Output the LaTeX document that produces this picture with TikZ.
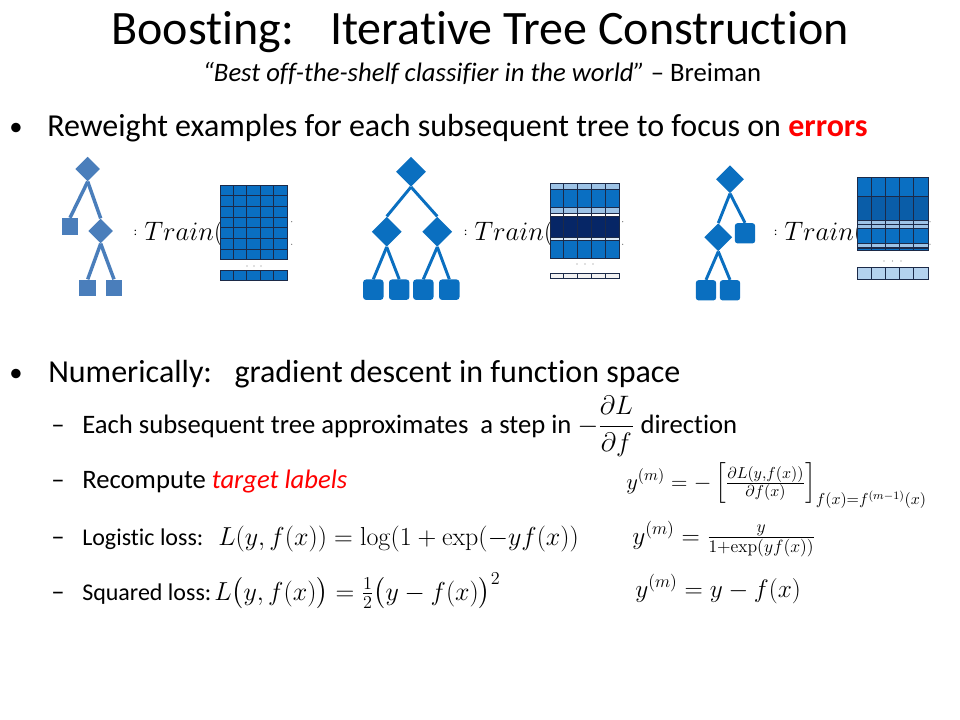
\RequirePackage{fix-cm}
\documentclass[tikz,border=0pt]{standalone}
\usepackage{amsmath, amssymb}
\usepackage[no-math]{fontspec}
\setmainfont{Carlito}[Ligatures=NoCommon]
\usepackage{xcolor}
\usetikzlibrary{shapes.geometric}

\definecolor{treeA}{HTML}{4A7EBB}
\definecolor{treeB}{HTML}{0A6FC0}
\definecolor{cellmid}{HTML}{0A6FC2}
\definecolor{cellmd}{HTML}{0A5DA8}
\definecolor{celldark}{HTML}{062666}
\definecolor{celllight}{HTML}{9DC3E6}
\definecolor{cellpale}{HTML}{DEEBF7}
\definecolor{cellsky}{HTML}{B4D2EE}
\definecolor{cellgray}{HTML}{F2F2F2}
\definecolor{gridline}{HTML}{1C2A48}
\definecolor{errred}{HTML}{FF0000}

\tikzset{
  splitA/.style={diamond, fill=treeA, inner sep=0pt, minimum size=18.5pt},
  leafA/.style={rectangle, fill=treeA, inner sep=0pt, minimum size=12.6pt},
  splitB/.style={diamond, fill=treeB, inner sep=0pt, minimum size=22.5pt},
  splitC/.style={diamond, fill=treeB, inner sep=0pt, minimum size=21pt},
  leafB/.style={rectangle, rounded corners=2.2pt, fill=treeB, inner sep=0pt, minimum size=15.3pt},
  edgeA/.style={treeA, line width=2.6pt},
  edgeB/.style={treeB, line width=2.2pt},
  cell/.style={draw=gridline, line width=0.6pt},
  traintext/.style={inner sep=0pt, font=\fontsize{20}{24}\selectfont},
  colontext/.style={inner sep=0pt, font=\fontsize{9}{10}\selectfont},
  titletext/.style={inner sep=0pt, font=\fontsize{36}{43}\selectfont},
  subtext/.style={inner sep=0pt, font=\fontsize{20}{24}\selectfont},
  bullettext/.style={inner sep=0pt, font=\fontsize{24}{29}\selectfont},
  dottext/.style={inner sep=0pt, font=\fontsize{20}{24}\selectfont},
  itemtext/.style={inner sep=0pt, font=\fontsize{20}{24}\selectfont},
  losstext/.style={inner sep=0pt, font=\fontsize{18}{22}\selectfont},
  mathtext/.style={inner sep=0pt, font=\fontsize{19.5}{23}\selectfont},
  labeltext/.style={inner sep=0pt, font=\fontsize{19}{23}\selectfont},
}

\begin{document}
\begin{tikzpicture}[x=0.75pt, y=-0.75pt]

\fill[white] (0,0) rectangle (960,720);
\useasboundingbox (0,0) rectangle (960,720);

% title
\node[titletext, anchor=base] (title) at (480,45) {Boosting:\hspace{0.45em} Iterative Tree Construction};
\node[subtext, anchor=base] (quote) at (482,82) {\textit{“Best off-the-shelf classifier in the world”} – Breiman};

% first bullet
\node[dottext, anchor=base] (dot1) at (16,136) {\textbullet};
\node[bullettext, anchor=base west] (b1) at (47,137) {Reweight examples for each subsequent tree to focus on \textbf{\color{errred}errors}};

\begin{scope}
% tree 1
\node[splitA] (r1) at (87.7,169) {};
\node[leafA] (l1) at (70,226.5) {};
\node[splitA] (s1) at (100.7,231) {};
\node[leafA] (l2) at (87.7,288) {};
\node[leafA] (l3) at (114,288) {};
\draw[edgeA] (r1.south) -- (l1.north);
\draw[edgeA] (r1.south) -- (s1.north);
\draw[edgeA] (s1.south) -- (l2.north);
\draw[edgeA] (s1.south) -- (l3.north);

\node[colontext] (c1) at (135.5,232.7) {:};
\node[traintext, anchor=base west] (tr1) at (144,240.7) {$Train($};

\foreach \r in {0,...,6}{
	\foreach \c in {0,...,4}{
		\draw[cell, fill=cellmid] (220+\c*13.4,185+\r*10.7) rectangle ++(13.4,10.7);
	}
}
\foreach \c in {0,...,4}{
	\draw[cell, fill=cellmid] (220+\c*13.4,270) rectangle ++(13.4,10);
}
\foreach \d in {0,1,2}{
	\fill[gray] (247+\d*7,266) circle (0.45pt);
}
\fill[gray] (291.7,221.7) circle (0.5pt);
\fill[gray] (291.7,244.3) circle (0.5pt);
\end{scope}

\begin{scope}
% tree 2
\node[splitB] (r2) at (411,171.7) {};
\node[splitB] (s2) at (386.7,231.7) {};
\node[splitB] (s3) at (437.3,231.7) {};
\node[leafB] (l4) at (373.3,289.7) {};
\node[leafB] (l5) at (399.2,289.7) {};
\node[leafB] (l6) at (423.3,289.7) {};
\node[leafB] (l7) at (449.3,289.7) {};
\draw[edgeB] (r2.south) -- (s2.north);
\draw[edgeB] (r2.south) -- (s3.north);
\draw[edgeB] (s2.south) -- (l4.north);
\draw[edgeB] (s2.south) -- (l5.north);
\draw[edgeB] (s3.south) -- (l6.north);
\draw[edgeB] (s3.south) -- (l7.north);

\node[colontext] (c2) at (465.7,232.7) {:};
\node[traintext, anchor=base west] (tr2) at (474,240.7) {$Train($};

\foreach \ya/\h/\col in {183/6/celllight, 189/18/cellmid, 207/6/celllight, 213/3/white, 216/21/celldark, 237/3/cellpale, 240/18/cellmid}{
	\foreach \c in {0,...,4}{
		\draw[cell, fill=\col] (550+\c*13.8,\ya) rectangle ++(13.8,\h);
	}
}
\foreach \c in {0,...,4}{
	\draw[cell, fill=cellgray] (550+\c*13.8,273) rectangle ++(13.8,5);
}
\foreach \d in {0,1,2}{
	\fill[gray] (577+\d*8,264) circle (0.45pt);
}
\fill[gray] (622.7,221.7) circle (0.5pt);
\fill[gray] (622.7,244.3) circle (0.5pt);
\end{scope}

\begin{scope}
% tree 3
\node[splitC] (r3) at (730,179.3) {};
\node[splitC] (s4) at (718.3,237.3) {};
\node[leafB] (l8) at (745,233.3) {};
\node[leafB] (l9) at (706,290.3) {};
\node[leafB] (l10) at (730,290.3) {};
\draw[edgeB] (r3.south) -- (s4.north);
\draw[edgeB] (r3.south) -- (l8.north);
\draw[edgeB] (s4.south) -- (l9.north);
\draw[edgeB] (s4.south) -- (l10.north);

\node[colontext] (c3) at (775.7,232.7) {:};
\node[traintext, anchor=base west] (tr3) at (784,240.7) {$Train($};

\foreach \ya/\h/\col in {177/19/cellmid, 196/24/cellmd, 220/4/celllight, 224/4/celllight, 228/15/cellmid, 243/4/celllight, 247/1.5/cellmid, 248.5/1.5/cellmid}{
	\foreach \c in {0,...,4}{
		\draw[cell, fill=\col] (857+\c*14.2,\ya) rectangle ++(14.2,\h);
	}
}
\foreach \c in {0,...,4}{
	\draw[cell, fill=cellsky] (857+\c*14.2,267) rectangle ++(14.2,12);
}
\foreach \d in {0,1,2}{
	\fill[gray] (884+\d*8.5,261) circle (0.45pt);
}
\fill[gray] (930,221.7) circle (0.5pt);
\fill[gray] (930,244.3) circle (0.5pt);
\end{scope}

% second bullet
\node[dottext, anchor=base] (dot2) at (16,381) {\textbullet};
\node[bullettext, anchor=base west] (b2) at (48,382) {Numerically:\hspace{0.4em} gradient descent in function space};

\node[itemtext, anchor=base west] (d1) at (51,433) {–};
\node[itemtext, anchor=base west] (i1) at (82,433) {Each subsequent tree approximates\ \ a step in $-\dfrac{\partial L}{\partial f}$ direction};

\node[itemtext, anchor=base west] (d2) at (51,488) {–};
\node[itemtext, anchor=base west] (i2) at (82,488) {Recompute \textit{\color{errred}target labels}};

\node[itemtext, anchor=base west] (d3) at (51,545) {–};
\node[losstext, anchor=base west] (i3) at (82,545) {Logistic loss:};
\node[mathtext, anchor=base west] (m3) at (218,545) {$L(y,f(x))=\log(1+\exp(-yf(x))$};

\node[itemtext, anchor=base west] (d4) at (51,600) {–};
\node[losstext, anchor=base west] (i4) at (82,600) {Squared loss:};
\node[mathtext, anchor=base west] (m4) at (214,600) {$L\bigl(y,f(x)\bigr)=\frac{1}{2}\bigl(y-f(x)\bigr)^2$};

% target labels
\node[labeltext, font=\fontsize{17}{21}\selectfont, anchor=base west] (y1) at (626,489) {$y^{(m)}=-\left[\frac{\partial L(y,f(x))}{\partial f(x)}\right]_{f(x)=f^{(m-1)}(x)}$};
\node[labeltext, anchor=base west] (y2) at (632,544) {$y^{(m)}=\frac{y}{1+\exp(yf(x))}$};
\node[labeltext, anchor=base west] (y3) at (635,597) {$y^{(m)}=y-f(x)$};

\end{tikzpicture}
\end{document}
